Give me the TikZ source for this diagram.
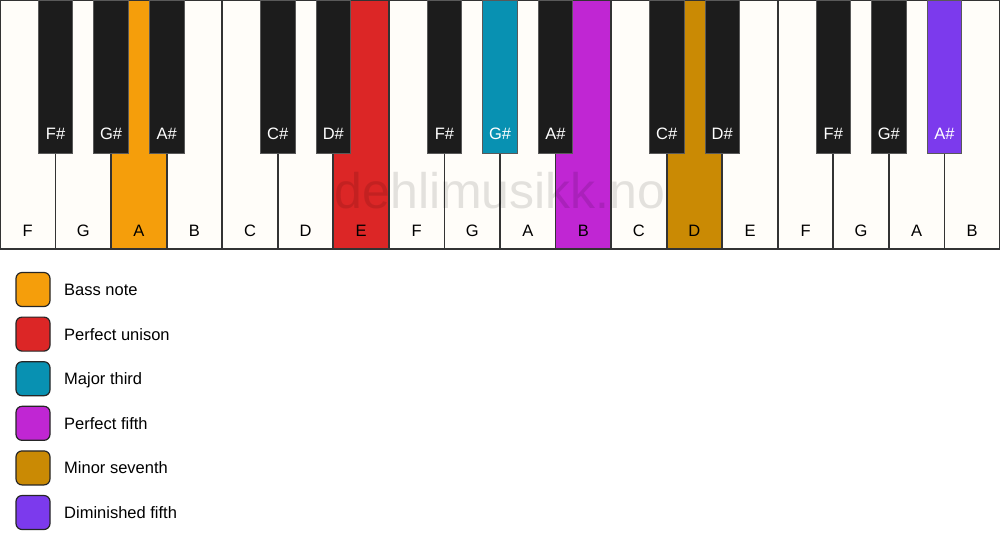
\documentclass[tikz,border=0pt]{standalone}
\usepackage{fontspec}
\setmainfont{Liberation Sans}
\definecolor{keywhite}{HTML}{FFFDF9}
\definecolor{keyblack}{HTML}{1C1C1C}
\definecolor{keyedge}{HTML}{333333}
\definecolor{cbass}{HTML}{F59E0B}
\definecolor{cunison}{HTML}{DC2626}
\definecolor{cthird}{HTML}{0891B2}
\definecolor{cfifth}{HTML}{C026D3}
\definecolor{cseventh}{HTML}{CA8A04}
\definecolor{cdim}{HTML}{7C3AED}
\tikzset{
  whitekey/.style={draw=keyedge, line width=1.8pt, fill=keywhite},
  blackkey/.style={draw=black!65, line width=0.8pt, fill=keyblack},
  wlabel/.style={font=\fontsize{16.5}{19}\selectfont, text=black, anchor=base},
  blabel/.style={font=\fontsize{16.5}{19}\selectfont, text=white, anchor=base},
  legbox/.style={draw=black!85, line width=1.2pt, rounded corners=6pt, minimum width=34pt, minimum height=34pt, inner sep=0pt, fill=#1},
  legtext/.style={font=\fontsize{16.5}{19}\selectfont, anchor=base west, inner sep=0pt},
  watermark/.style={font=\fontsize{50}{60}\selectfont, text=black, opacity=0.11}
}
\begin{document}
\begin{tikzpicture}[x=1pt,y=-1pt]
\useasboundingbox (0,0) rectangle (1000,550);
\fill[white] (0,0) rectangle (1000,550);
\def\ww{55.5556}
% white keys
\foreach \i/\n/\c in {0/F/keywhite,1/G/keywhite,2/A/cbass,3/B/keywhite,4/C/keywhite,5/D/keywhite,6/E/cunison,7/F/keywhite,8/G/keywhite,9/A/keywhite,10/B/cfifth,11/C/keywhite,12/D/cseventh,13/E/keywhite,14/F/keywhite,15/G/keywhite,16/A/keywhite,17/B/keywhite}{
  \path[whitekey, fill=\c] ({\i*\ww},0) rectangle ({(\i+1)*\ww},249);
  \node[wlabel] (w\i) at ({(\i+0.5)*\ww},236) {\n};
}
% black keys
\foreach \k/\n/\c in {1/F\#/keyblack,2/G\#/keyblack,3/A\#/keyblack,5/C\#/keyblack,6/D\#/keyblack,8/F\#/keyblack,9/G\#/cthird,10/A\#/keyblack,12/C\#/keyblack,13/D\#/keyblack,15/F\#/keyblack,16/G\#/keyblack,17/A\#/cdim}{
  \path[blackkey, fill=\c] ({\k*\ww-17.3},0) rectangle ({\k*\ww+17.3},153);
  \node[blabel] (b\k) at ({\k*\ww},139) {\n};
}
\node[watermark] (wm) at (500,191) {dehlimusikk.no};
% legend
\foreach \j/\c/\t in {0/cbass/Bass note,1/cunison/Perfect unison,2/cthird/Major third,3/cfifth/Perfect fifth,4/cseventh/Minor seventh,5/cdim/Diminished fifth}{
  \node[legbox=\c] (lb\j) at (33,{289.5+\j*44.6}) {};
  \node[legtext] (lt\j) at (64,{295.5+\j*44.6}) {\t};
}
\end{tikzpicture}
\end{document}
